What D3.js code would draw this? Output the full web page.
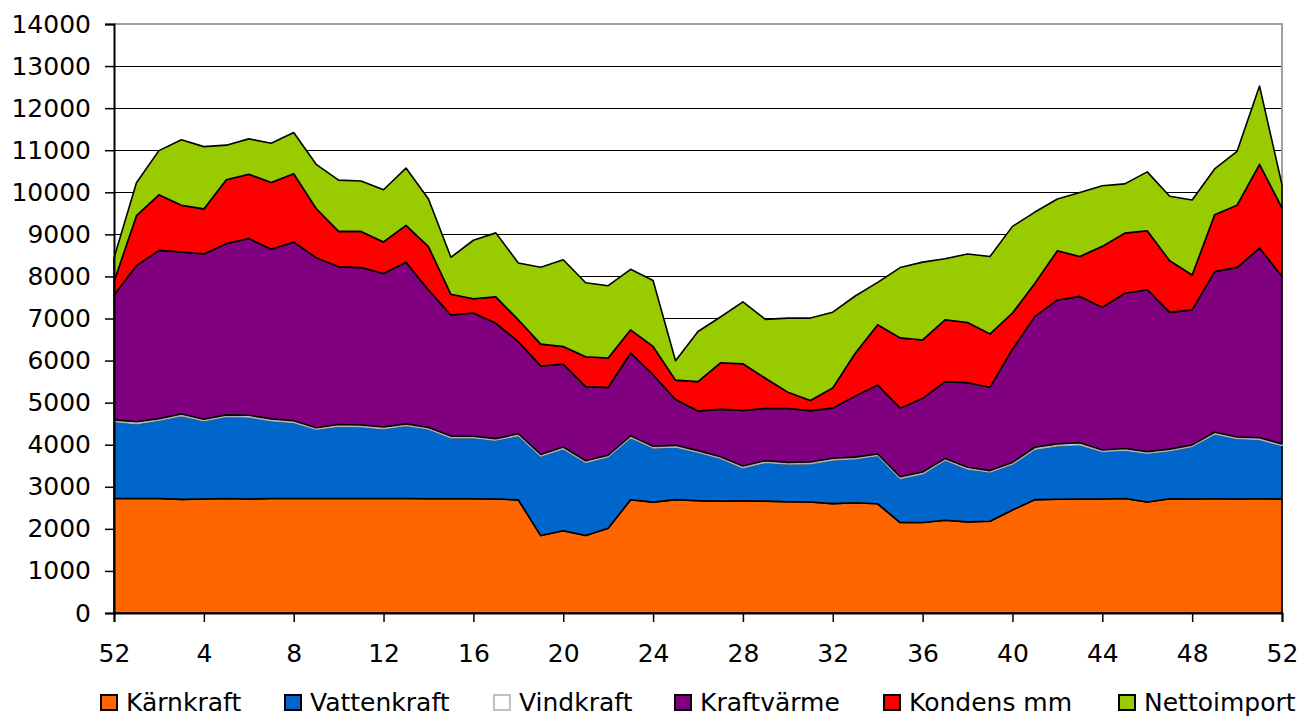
<!DOCTYPE html>
<html>
<head>
<meta charset="utf-8">
<script src="https://cdn.jsdelivr.net/npm/d3@7"></script>
<style>
  body { margin: 0; background: #fff; }
  text { font-family: "DejaVu Sans", Verdana, sans-serif; fill: #000; }
</style>
</head>
<body>
<div id="chart"></div>
<script>
// week labels along the x axis (52 of previous year, then 1..52)
const weeks = ["52"].concat(d3.range(1, 53).map(String));

const seriesNames = ["Kärnkraft", "Vattenkraft", "Vindkraft", "Kraftvärme", "Kondens mm", "Nettoimport"];
const seriesColors = ["#ff6600", "#0066cc", "#ffffff", "#800080", "#ff0000", "#99cc00"];

// weekly values
const karnkraft = [2720, 2720, 2720, 2700, 2710, 2720, 2710, 2720, 2720, 2720, 2720, 2720, 2720, 2720, 2715,
  2715, 2715, 2710, 2690, 1840, 1955, 1840, 2015, 2690, 2635, 2695, 2670, 2660, 2665, 2660, 2645, 2640, 2600,
  2620, 2595, 2150, 2150, 2205, 2165, 2180, 2450, 2695, 2705, 2710, 2710, 2720, 2640, 2715, 2710, 2715, 2710,
  2715, 2710];
const vattenkraft = [1830, 1780, 1860, 1990, 1860, 1950, 1950, 1850, 1810, 1650, 1720, 1710, 1660, 1740, 1660,
  1450, 1450, 1400, 1530, 1890, 1950, 1740, 1700, 1480, 1290, 1250, 1150, 1020, 790, 920, 900, 910, 1040,
  1050, 1150, 1050, 1160, 1430, 1260, 1170, 1090, 1200, 1270, 1290, 1130, 1150, 1160, 1140, 1250, 1540, 1440,
  1410, 1270];
const vindkraft = [40, 45, 40, 40, 35, 40, 40, 45, 40, 35, 40, 40, 40, 35, 35,
  40, 35, 35, 40, 40, 40, 40, 35, 40, 40, 40, 40, 35, 40, 40, 35, 40, 40,
  35, 35, 40, 40, 35, 40, 35, 40, 45, 45, 45, 35, 40, 35, 40, 35, 40, 35,
  40, 40];
const kraftvarme = [2970, 3710, 4000, 3850, 3930, 4070, 4200, 4030, 4250, 4040, 3750, 3740, 3650, 3840, 3270,
  2880, 2930, 2740, 2190, 2100, 1970, 1760, 1610, 1970, 1700, 1090, 940, 1130, 1320, 1240, 1280, 1220, 1190,
  1450, 1640, 1630, 1750, 1830, 2010, 1980, 2690, 3110, 3420, 3480, 3390, 3690, 3850, 3250, 3210, 3820, 4030,
  4510, 3980];
const kondens = [320, 1190, 1320, 1110, 1070, 1520, 1530, 1590, 1620, 1170, 840, 860, 750, 880, 1030,
  490, 340, 630, 520, 520, 420, 710, 700, 550, 670, 460, 700, 1100, 1110, 720, 390, 240, 480,
  1020, 1430, 1670, 1390, 1470, 1430, 1270, 860, 790, 1170, 950, 1450, 1430, 1400, 1230, 830, 1350, 1480,
  1990, 1630];
const nettoimport = [560, 780, 1050, 1560, 1480, 820, 840, 930, 980, 1050, 1220, 1200, 1240, 1360, 1130,
  880, 1390, 1520, 1350, 1830, 2060, 1760, 1720, 1440, 1570, 460, 1190, 1090, 1470, 1400, 1760, 1960, 1800,
  1360, 1010, 1670, 1850, 1450, 1630, 1840, 2060, 1690, 1230, 1520, 1440, 1170, 1400, 1530, 1780, 1090, 1280,
  1860, 550];

const yTicks = d3.range(0, 14001, 1000);
const xTickIdx = d3.range(0, 53, 4);

const W = 1303, H = 718;
const margin = { left: 114, right: 21, top: 24, bottom: 105 };
const width = W - margin.left - margin.right;
const height = H - margin.top - margin.bottom;

const allSeries = [karnkraft, vattenkraft, vindkraft, kraftvarme, kondens, nettoimport];
const table = weeks.map((w, i) => {
  const row = { i: i };
  seriesNames.forEach((n, k) => (row[n] = allSeries[k][i]));
  return row;
});

const svg = d3.select("#chart").append("svg")
  .attr("width", W)
  .attr("height", H);

const g = svg.append("g")
  .attr("transform", `translate(${margin.left},${margin.top})`);

const x = d3.scaleLinear().domain([0, weeks.length - 1]).range([0, width]);
const y = d3.scaleLinear().domain([0, 14000]).range([height, 0]);

// gridlines
g.append("g")
  .selectAll("line")
  .data(yTicks.filter((d) => d > 0 && d < 14000))
  .join("line")
  .attr("x1", 0).attr("x2", width)
  .attr("y1", (d) => y(d)).attr("y2", (d) => y(d))
  .attr("stroke", "#000")
  .attr("stroke-width", 1)
  .attr("shape-rendering", "crispEdges");

// plot border top / right in grey
g.append("path")
  .attr("d", `M0,${y(14000)}H${width}V${height}`)
  .attr("fill", "none")
  .attr("stroke", "#a0a0a0")
  .attr("stroke-width", 2);

const stacked = d3.stack().keys(seriesNames)(table);

const area = d3.area()
  .x((d) => x(d.data.i))
  .y0((d) => y(d[0]))
  .y1((d) => y(d[1]));

g.append("g")
  .selectAll("path")
  .data(stacked)
  .join("path")
  .attr("fill", (d, k) => seriesColors[k])
  .attr("stroke", (d, k) => (k === 2 ? "#b0b0b0" : "#000"))
  .attr("stroke-width", 1.6)
  .attr("stroke-linejoin", "round")
  .attr("d", area);

// y axis
const yAxis = g.append("g")
  .call(d3.axisLeft(y).tickValues(yTicks).tickFormat(d3.format("d")).tickSize(9).tickPadding(14));
yAxis.select(".domain").attr("stroke", "#000").attr("stroke-width", 2);
yAxis.selectAll(".tick line").attr("stroke", "#000").attr("stroke-width", 1.5);
yAxis.selectAll("text").style("font-size", "25px").attr("fill", "#000");

// x axis
const xAxis = g.append("g")
  .attr("transform", `translate(0,${height})`)
  .call(d3.axisBottom(x).tickValues(xTickIdx).tickFormat((i) => weeks[i]).tickSize(9).tickPadding(22));
xAxis.select(".domain").attr("stroke", "#000").attr("stroke-width", 2);
xAxis.selectAll(".tick line").attr("stroke", "#000").attr("stroke-width", 1.5);
xAxis.selectAll("text").style("font-size", "25px").attr("fill", "#000");

// legend, item positions as in the original layout
const legendX = [100, 284, 493, 674, 883, 1118];
const legend = svg.append("g");
seriesNames.forEach((n, k) => {
  const item = legend.append("g").attr("transform", `translate(${legendX[k]},0)`);
  item.append("rect")
    .attr("x", 1).attr("y", 695)
    .attr("width", 16).attr("height", 15)
    .attr("fill", seriesColors[k])
    .attr("stroke", k === 2 ? "#c0c0c0" : "#000")
    .attr("stroke-width", 2);
  item.append("text")
    .attr("x", 26).attr("y", 711)
    .style("font-size", "25px")
    .text(n);
});
</script>
</body>
</html>
